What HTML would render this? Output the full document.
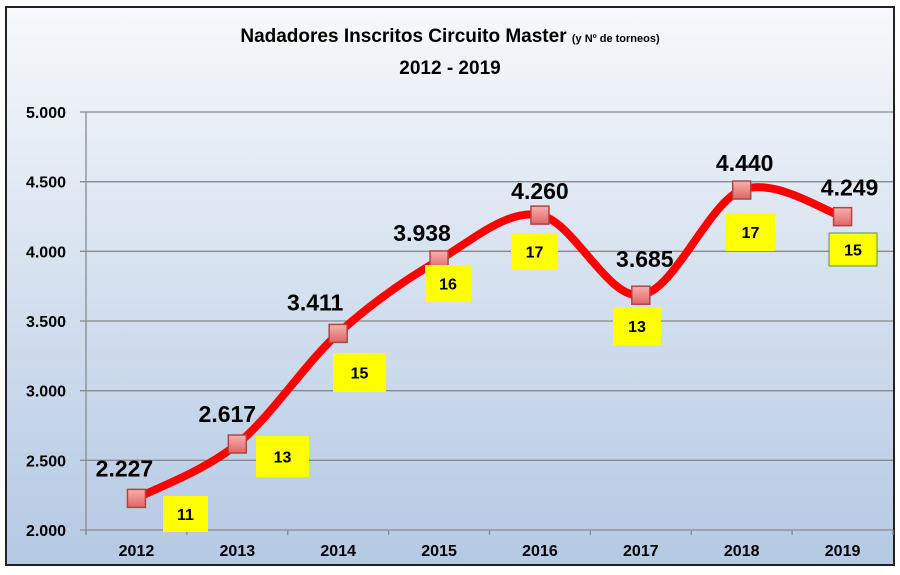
<!DOCTYPE html>
<html><head><meta charset="utf-8"><style>
body{margin:0;background:#fff;width:900px;height:575px;overflow:hidden}
svg{display:block;font-family:"Liberation Sans",sans-serif}
</style></head><body>
<svg id="c" width="900" height="575">
<defs>
<linearGradient id="bg" x1="0" y1="0" x2="0" y2="1"><stop offset="0" stop-color="#f6f8fb"/><stop offset="1" stop-color="#b4c9e3"/></linearGradient>
<linearGradient id="mk" x1="0" y1="0" x2="0" y2="1"><stop offset="0" stop-color="#f8b0ae"/><stop offset="1" stop-color="#e06664"/></linearGradient>
</defs>
<rect x="6" y="7" width="888" height="558" fill="url(#bg)" stroke="#222" stroke-width="2"/>
<text x="450" y="42" text-anchor="middle" font-weight="bold" font-size="19">Nadadores Inscritos Circuito Master <tspan font-size="11">(y Nº de torneos)</tspan></text>
<text x="450" y="74" text-anchor="middle" font-weight="bold" font-size="19">2012 - 2019</text>
<g id="grid"></g><g id="axes"></g><g id="series"></g><g id="labels"></g>
</svg>
<script>
const years=["2012","2013","2014","2015","2016","2017","2018","2019"];
const swimmers=[2227,2617,3411,3938,4260,3685,4440,4249];
const valueLabels=["2.227","2.617","3.411","3.938","4.260","3.685","4.440","4.249"];
const tournaments=[11,13,15,16,17,13,17,15];
const yTicks=[2000,2500,3000,3500,4000,4500,5000];
const yTickLabels=["2.000","2.500","3.000","3.500","4.000","4.500","5.000"];
const NS="http://www.w3.org/2000/svg";
const L=86,R=893,T=112,B=530,ymin=2000,ymax=5000;
const step=(R-L)/years.length;
function xs(i){return L+step*(i+0.5);}
function ys(v){return B-(v-ymin)/(ymax-ymin)*(B-T);}
function mk(tag,attrs,parent,txt){const e=document.createElementNS(NS,tag);for(const k in attrs)e.setAttribute(k,attrs[k]);if(txt!==undefined)e.textContent=txt;document.getElementById(parent).appendChild(e);return e;}
yTicks.forEach((t,i)=>{
  const g=mk('line',{x1:L-6,x2:R,y1:ys(t),y2:ys(t),stroke:'#8a8a8a','stroke-width':1.3},'grid');
  
  
  const tx=mk('text',{x:66,y:ys(t)+6,'text-anchor':'end','font-size':16,'font-weight':'bold'},'axes',yTickLabels[i]);
  
  
});
const ya=mk('line',{x1:L,x2:L,y1:T,y2:B+4,stroke:'#8a8a8a','stroke-width':1.3},'axes');


for(let i=0;i<=years.length;i++){
  const tk=mk('line',{x1:L+step*i,x2:L+step*i,y1:B,y2:B+5,stroke:'#8a8a8a','stroke-width':1.3},'axes');
  
  
}
years.forEach((y,i)=>{
  const tx=mk('text',{x:xs(i),y:556,'text-anchor':'middle','font-size':16,'font-weight':'bold'},'axes',y);
  
  
});
const P=swimmers.map((v,i)=>[xs(i),ys(v)]);
let d=`M${P[0][0]},${P[0][1]}`;
for(let i=0;i<P.length-1;i++){
  const p0=P[Math.max(0,i-1)],p1=P[i],p2=P[i+1],p3=P[Math.min(P.length-1,i+2)];
  const c1=[p1[0]+(p2[0]-p0[0])/6,p1[1]+(p2[1]-p0[1])/6];
  const c2=[p2[0]-(p3[0]-p1[0])/6,p2[1]-(p3[1]-p1[1])/6];
  d+=` C${c1[0]},${c1[1]} ${c2[0]},${c2[1]} ${p2[0]},${p2[1]}`;
}
const ln=mk('path',{d:d,fill:'none',stroke:'#ff0000','stroke-width':8,'stroke-linecap':'round'},'series');


const lblDx=[-12,-10,-23,-17,0,4,3,7];
const lblDy=[-22,-22,-23,-19,-16,-28,-19,-21];
const boxX=[163,256,333,425,511,613,726,829];
const boxY=[496,436,353,265,233,307,213,233];
const boxW=[45,53,53,46,47,48,49,48];
const boxH=[36,41,39,37,37,38,38,33];
P.forEach((p,i)=>{
  const m=mk('rect',{x:p[0]-9,y:p[1]-9,width:18,height:18,fill:'url(#mk)',stroke:'#b04545','stroke-width':1.5},'series');
  
  
  const vl=mk('text',{x:p[0]+lblDx[i],y:p[1]+lblDy[i],'text-anchor':'middle','font-size':23,'font-weight':'bold'},'labels',valueLabels[i]);
  
  
  const r=mk('rect',{x:boxX[i],y:boxY[i],width:boxW[i],height:boxH[i],fill:'#ffff00',stroke:i==7?'#5a8a6a':'none','stroke-width':1},'labels');
  
  
  const t=mk('text',{x:boxX[i]+boxW[i]/2,y:boxY[i]+boxH[i]/2+6,'text-anchor':'middle','font-size':16,'font-weight':'bold'},'labels',String(tournaments[i]));
  
  
});
</script>
</body></html>
